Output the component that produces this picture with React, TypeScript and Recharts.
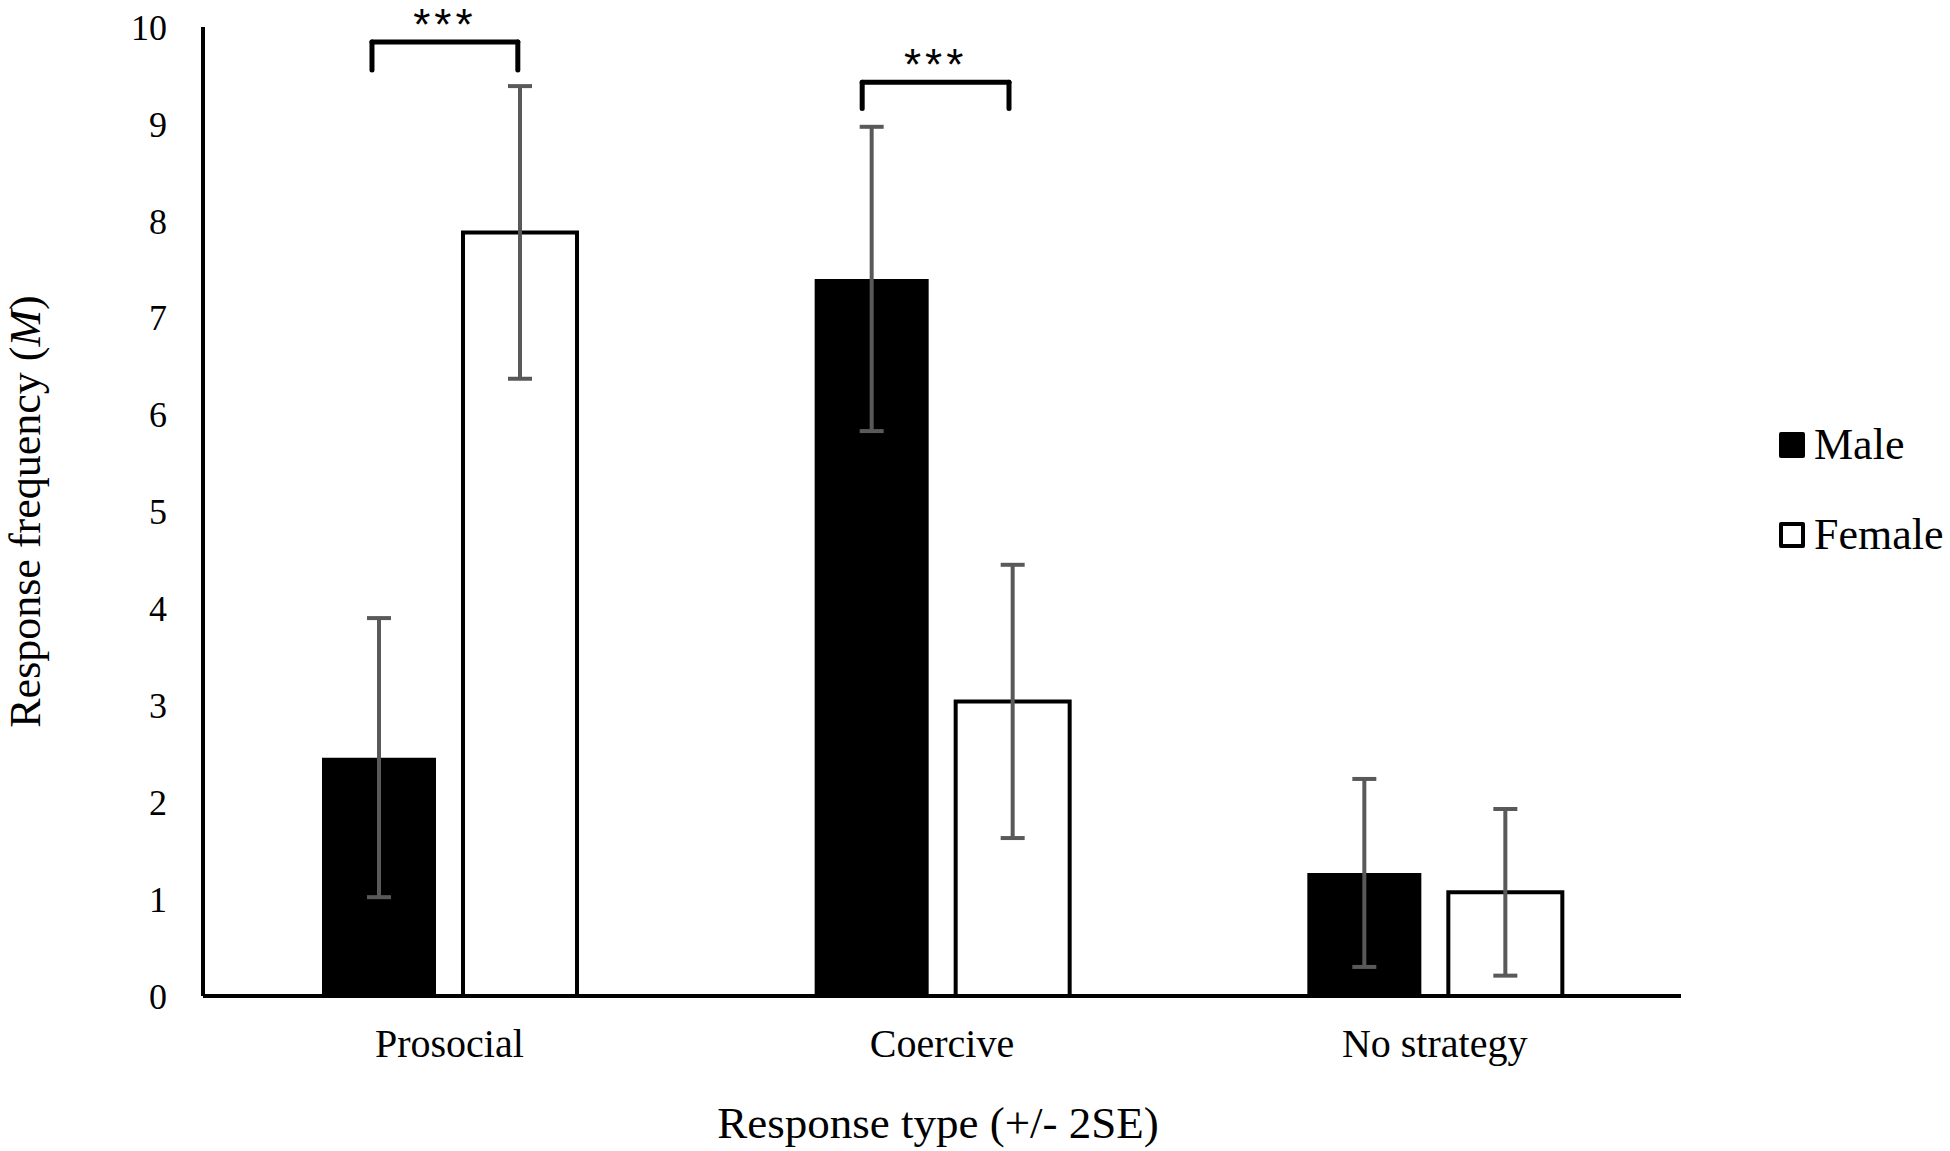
import React from 'react';
import {
  BarChart,
  Bar,
  XAxis,
  YAxis,
  ErrorBar,
  Legend,
  Label,
  ReferenceLine,
} from 'recharts';

// page has default 8px body margin, drop it so the chart fills the window
document.body.style.margin = '0';

const categories = ['Prosocial', 'Coercive', 'No strategy'];
const seriesNames = ['Male', 'Female'];
const maleMeans = [2.46, 7.4, 1.27];
const femaleMeans = [7.88, 3.04, 1.07];
const maleErr = [1.44, 1.57, 0.97];
const femaleErr = [1.51, 1.41, 0.86];
const yTicks = [0, 1, 2, 3, 4, 5, 6, 7, 8, 9, 10];

// significance brackets, x in category units (0..3), y in data units
const bracketLeft = [0.343, 1.338];
const bracketRight = [0.639, 1.636];
const bracketTop = [9.845, 9.43];
const bracketBottom = [9.555, 9.16];
const bracketText = ['***', '***'];

const data = categories.map((name, i) => ({
  name,
  pos: i + 0.5,
  male: maleMeans[i],
  female: femaleMeans[i],
  maleErr: maleErr[i],
  femaleErr: femaleErr[i],
}));

const SERIF = 'Liberation Serif';

function YTitle({ viewBox }: any) {
  const cx = (viewBox?.x ?? 0) + 40;
  const cy = (viewBox?.y ?? 0) + (viewBox?.height ?? 0) / 2;
  return (
    <text
      x={cx}
      y={cy}
      transform={`rotate(-90 ${cx} ${cy})`}
      textAnchor="middle"
      fontFamily={SERIF}
      fontSize={44}
      fill="#000"
    >
      Response frequency (<tspan fontStyle="italic">M</tspan>)
    </text>
  );
}

function XTitle({ viewBox }: any) {
  const cx = (viewBox?.x ?? 0) + (viewBox?.width ?? 0) / 2 - 4;
  const cy = (viewBox?.y ?? 0) + 142;
  return (
    <text x={cx} y={cy} textAnchor="middle" fontFamily={SERIF} fontSize={45} fill="#000">
      Response type (+/- 2SE)
    </text>
  );
}

function LegendContent({ payload }: any) {
  const items = [...(payload || [])].sort(
    (a: any, b: any) => seriesNames.indexOf(a.value) - seriesNames.indexOf(b.value)
  );
  return (
    <div>
      {items.map((entry: any) => (
        <div
          key={entry.value}
          style={{ display: 'flex', alignItems: 'center', height: 60, marginBottom: 30 }}
        >
          <span
            style={{
              display: 'inline-block',
              width: 26,
              height: 26,
              boxSizing: 'border-box',
              background: entry.payload?.fill ?? entry.color,
              border: '4px solid #000',
              borderRadius: 2,
            }}
          />
          <span
            style={{
              marginLeft: 9,
              fontFamily: SERIF,
              fontSize: 44,
              lineHeight: 1,
              color: '#000',
              whiteSpace: 'nowrap',
            }}
          >
            {entry.value}
          </span>
        </div>
      ))}
    </div>
  );
}

export default function App() {
  return (
    <div style={{ width: 1950, height: 1151, background: '#fff' }}>
      <BarChart
        width={1950}
        height={1151}
        data={data}
        margin={{ top: 27, right: 269, bottom: 0, left: 0 }}
        barSize={114}
        barGap={27}
      >
        <XAxis
          dataKey="name"
          height={155}
          axisLine={{ stroke: '#000', strokeWidth: 4 }}
          tickLine={false}
          tickSize={0}
          tickMargin={33}
          tick={{ fill: '#000', fontSize: 40, fontFamily: SERIF }}
        >
          <Label content={<XTitle />} />
        </XAxis>
        <XAxis
          xAxisId="pos"
          dataKey="pos"
          type="number"
          domain={[0, 3]}
          allowDataOverflow
          hide
        />
        <YAxis
          width={203}
          domain={[0, 10]}
          ticks={yTicks}
          interval={0}
          axisLine={{ stroke: '#000', strokeWidth: 4 }}
          tickLine={false}
          tickSize={0}
          tickMargin={36}
          tick={{ fill: '#000', fontSize: 36, fontFamily: SERIF }}
        >
          <Label content={<YTitle />} />
        </YAxis>
        <Legend
          layout="vertical"
          align="center"
          verticalAlign="middle"
          width={171}
          wrapperStyle={{ left: 1779, top: 415, width: 171 }}
          content={<LegendContent />}
        />
        <Bar dataKey="male" name={seriesNames[0]} fill="#000000" isAnimationActive={false}>
          <ErrorBar
            dataKey="maleErr"
            width={12}
            strokeWidth={4}
            stroke="#595959"
            isAnimationActive={false}
          />
        </Bar>
        <Bar
          dataKey="female"
          name={seriesNames[1]}
          fill="#ffffff"
          stroke="#000000"
          strokeWidth={4}
          isAnimationActive={false}
        >
          <ErrorBar
            dataKey="femaleErr"
            width={12}
            strokeWidth={4}
            stroke="#595959"
            isAnimationActive={false}
          />
        </Bar>
        {bracketLeft.map((l, i) => (
          <ReferenceLine
            key={`top-${i}`}
            xAxisId="pos"
            segment={[
              { x: l, y: bracketTop[i] },
              { x: bracketRight[i], y: bracketTop[i] },
            ]}
            stroke="#000"
            strokeWidth={5}
            strokeLinecap="round"
            label={{
              value: bracketText[i],
              position: 'top',
              offset: 2,
              fill: '#000',
              fontSize: 44,
              letterSpacing: 4,
              fontFamily: 'Liberation Sans',
            }}
          />
        ))}
        {bracketLeft.map((l, i) => (
          <ReferenceLine
            key={`left-${i}`}
            xAxisId="pos"
            segment={[
              { x: l, y: bracketTop[i] },
              { x: l, y: bracketBottom[i] },
            ]}
            stroke="#000"
            strokeWidth={5}
            strokeLinecap="round"
          />
        ))}
        {bracketRight.map((r, i) => (
          <ReferenceLine
            key={`right-${i}`}
            xAxisId="pos"
            segment={[
              { x: r, y: bracketTop[i] },
              { x: r, y: bracketBottom[i] },
            ]}
            stroke="#000"
            strokeWidth={5}
            strokeLinecap="round"
          />
        ))}
      </BarChart>
    </div>
  );
}
